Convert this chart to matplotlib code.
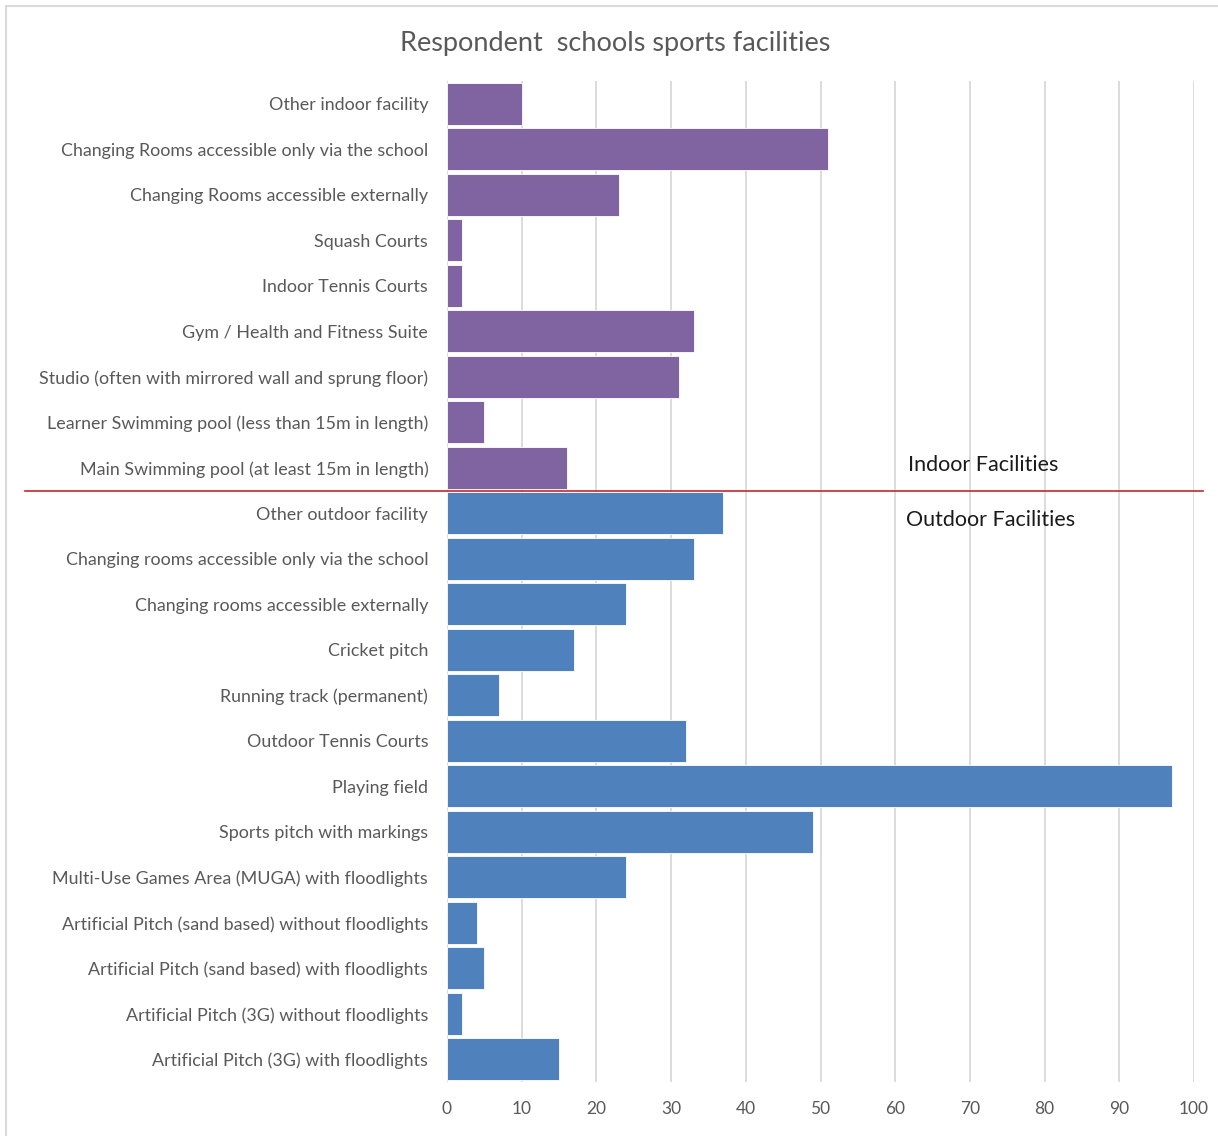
import matplotlib.pyplot as plt
from matplotlib.patches import Rectangle
from matplotlib.lines import Line2D
from matplotlib.transforms import blended_transform_factory

plt.rcParams['font.family'] = ['Lato', 'DejaVu Sans']

indoor_labels = [
    "Other indoor facility",
    "Changing Rooms accessible only via the school",
    "Changing Rooms accessible externally",
    "Squash Courts",
    "Indoor Tennis Courts",
    "Gym / Health and Fitness Suite",
    "Studio (often with mirrored wall and sprung floor)",
    "Learner Swimming pool (less than 15m in length)",
    "Main Swimming pool (at least 15m in length)",
]
indoor_values = [10, 51, 23, 2, 2, 33, 31, 5, 16]

outdoor_labels = [
    "Other outdoor facility",
    "Changing rooms accessible only via the school",
    "Changing rooms accessible externally",
    "Cricket pitch",
    "Running track (permanent)",
    "Outdoor Tennis Courts",
    "Playing field",
    "Sports pitch with markings",
    "Multi-Use Games Area (MUGA) with floodlights",
    "Artificial Pitch (sand based) without floodlights",
    "Artificial Pitch (sand based) with floodlights",
    "Artificial Pitch (3G) without floodlights",
    "Artificial Pitch (3G) with floodlights",
]
outdoor_values = [37, 33, 24, 17, 7, 32, 97, 49, 24, 4, 5, 2, 15]

x_ticks = list(range(0, 101, 10))

W, H = 1218, 1136
fig = plt.figure(figsize=(W / 100, H / 100), dpi=100)
ax = fig.add_axes([447 / W, 1 - 1082 / H, (1194 - 447) / W, (1082 - 81) / H])

labels = indoor_labels + outdoor_labels
values = indoor_values + outdoor_values
colors = ['#8064A2'] * len(indoor_values) + ['#4F81BD'] * len(outdoor_values)
ypos = list(range(len(labels)))

ax.barh(ypos, values, height=0.93, color=colors, edgecolor='white', linewidth=0.6, zorder=2)
ax.set_yticks(ypos)
ax.set_yticklabels(labels, fontsize=12.9, color='#595959')
ax.set_ylim(len(labels) - 0.5, -0.5)
ax.set_xlim(0, 100)
ax.set_xticks(x_ticks)
ax.set_xticklabels([str(t) for t in x_ticks], fontsize=12.5, color='#595959')
ax.tick_params(axis='both', length=0, pad=14)
ax.tick_params(axis='y', pad=13.5)
ax.grid(axis='x', color='#D9D9D9', linewidth=1.3, zorder=0)
for s in ax.spines.values():
    s.set_visible(False)

# divider between indoor and outdoor
split = len(indoor_values) - 0.5
tr = blended_transform_factory(fig.transFigure, ax.transData)
fig.add_artist(Line2D([25 / W, 1203 / W], [split, split], transform=tr,
                      color='#C0282D', linewidth=1.2))
ax.text(61.7, split - 0.55, "Indoor Facilities", fontsize=15.5, color='#1a1a1a',
        va='center', ha='left')
ax.text(61.4, split + 0.65, "Outdoor Facilities", fontsize=15.5, color='#1a1a1a',
        va='center', ha='left')

fig.text(615 / W, 1 - 43 / H, "Respondent  schools sports facilities", fontsize=19.5,
         color='#595959', ha='center', va='center')

# chart frame
fig.add_artist(Rectangle((6 / W, -0.01), 1.1, 1 - 6 / H + 0.01, transform=fig.transFigure,
                         fill=False, edgecolor='#D9D9D9', linewidth=1.5))

fig.savefig('out.png', dpi=100)
